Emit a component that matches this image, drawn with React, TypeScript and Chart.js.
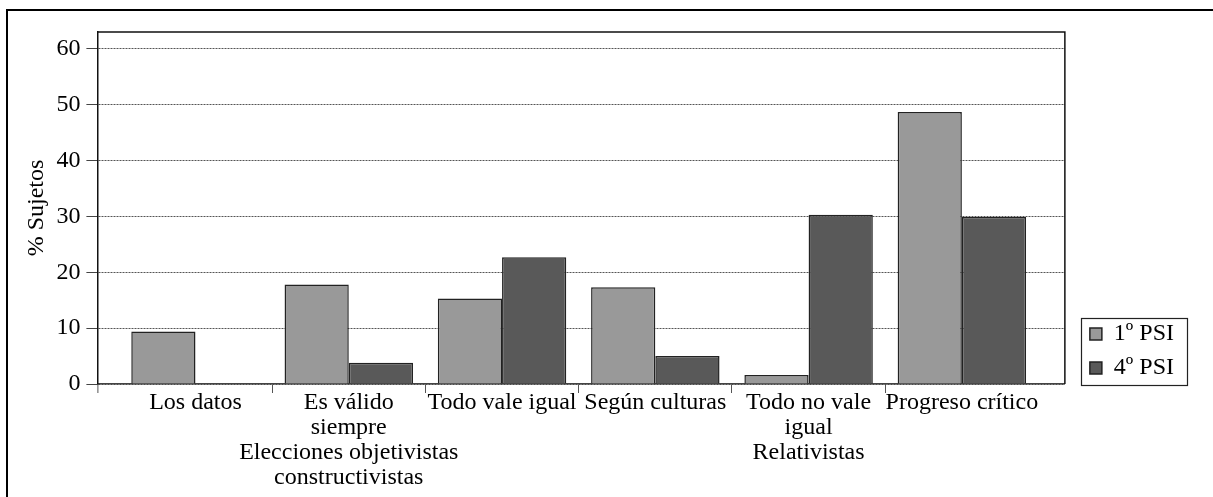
import React, { useEffect, useRef } from "react";
import { Chart, registerables } from "chart.js";

Chart.register(...registerables);

const categories: (string | string[])[] = [
  "Los datos",
  ["Es válido", "siempre", "Elecciones objetivistas", "constructivistas"],
  "Todo vale igual",
  "Según culturas",
  ["Todo no vale", "igual", "Relativistas"],
  "Progreso crítico",
];
const seriesNames = ["1º PSI", "4º PSI"];
const psi1 = [9.4, 17.8, 15.3, 17.3, 1.6, 48.7];
const psi4 = [0, 3.8, 22.7, 5.0, 30.3, 29.9];
const yTickStep = 10;

const FONT = "'Liberation Serif', 'Times New Roman', serif";
const FS = 24;

const framePlugin = {
  id: "framePlugin",
  afterLayout(chart: any) {
    const l = chart.legend;
    if (l) {
      l.left += 15;
      l.right += 15;
      l.top += 6;
      l.bottom += 6;
    }
  },
  afterDraw(chart: any) {
    const { ctx, chartArea } = chart;
    const { left, right, top, bottom } = chartArea;
    ctx.save();
    ctx.strokeStyle = "#111";
    ctx.lineWidth = 1.5;
    ctx.beginPath();
    ctx.moveTo(left, top);
    ctx.lineTo(right, top);
    ctx.lineTo(right, bottom);
    ctx.stroke();
    ctx.strokeStyle = "#555";
    ctx.lineWidth = 1;
    ctx.beginPath();
    ctx.moveTo(left + 0.5, bottom);
    ctx.lineTo(left + 0.5, bottom + 9);
    ctx.stroke();
    const l = chart.legend;
    if (l && l.legendHitBoxes && l.legendHitBoxes.length) {
      const hb = l.legendHitBoxes;
      let minX = Infinity, maxX = -Infinity, minY = Infinity, maxY = -Infinity;
      hb.forEach((h: any) => {
        minX = Math.min(minX, h.left);
        maxX = Math.max(maxX, h.left + h.width);
        minY = Math.min(minY, h.top);
        maxY = Math.max(maxY, h.top + h.height);
      });
      ctx.strokeStyle = "#222";
      ctx.lineWidth = 1.2;
      ctx.strokeRect(Math.round(minX - 9) + 0.5, Math.round(minY - 4) + 0.5, Math.round(maxX - minX + 22), Math.round(maxY - minY + 9));
    }
    ctx.restore();
  },
};

export default function App() {
  const ref = useRef<HTMLCanvasElement | null>(null);
  useEffect(() => {
    if (!ref.current) return;
    const idx = categories.map((_, i) => i);
    const chart = new Chart(ref.current, {
      type: "bar",
      data: {
        datasets: [
          {
            label: seriesNames[0],
            data: idx.map((i) => ({ x: i, y: psi1[i] })),
            backgroundColor: "#999999",
            borderColor: "#222222",
            borderWidth: 1.5,
          },
          {
            label: seriesNames[1],
            data: idx.map((i) => ({ x: i, y: psi4[i] })),
            backgroundColor: "#595959",
            borderColor: "#222222",
            borderWidth: 1.5,
          },
        ],
      },
      options: {
        animation: false,
        responsive: false,
        maintainAspectRatio: false,
        events: [],
        layout: { padding: { left: 18, top: 32, right: 44, bottom: 10 } },
        datasets: { bar: { categoryPercentage: 0.838, barPercentage: 1 } },
        plugins: {
          tooltip: { enabled: false },
          legend: {
            position: "right",
            align: "end",
            fullSize: false,
            labels: {
              boxWidth: 12,
              boxHeight: 12,
              padding: 10,
              color: "#000",
              font: { family: FONT, size: FS },
            },
          },
        },
        scales: {
          x: {
            type: "linear",
            offset: false,
            min: -0.64,
            max: 5.672,
            ticks: {
              stepSize: 1,
              includeBounds: false,
              autoSkip: false,
              maxRotation: 0,
              minRotation: 0,
              padding: -3,
              color: "#000",
              font: { family: FONT, size: FS, lineHeight: 25 / FS },
              callback: (v: any) => categories[v as number] as any,
            },
            grid: {
              offset: true,
              drawOnChartArea: false,
              tickLength: 9,
              lineWidth: 1,
              color: (c: any) => (c.type !== "tick" || c.index === 0 ? "rgba(0,0,0,0)" : "#555"),
              tickColor: (c: any) => (c.type !== "tick" || c.index === 0 ? "rgba(0,0,0,0)" : "#555"),
            },
            border: { color: "#444", width: 1.5 },
          },
          y: {
            min: 0,
            max: 63,
            ticks: {
              stepSize: yTickStep,
              includeBounds: false,
              padding: 6,
              color: "#000",
              font: { family: FONT, size: FS },
            },
            grid: {
              color: "#555",
              lineWidth: 1,
              tickLength: 11,
              tickColor: "#444",
            },
            border: { color: "#111", width: 1.5, dash: [2, 1] },
            title: {
              display: true,
              text: "% Sujetos",
              color: "#000",
              font: { family: FONT, size: FS, lineHeight: 1.1 },
              padding: { top: 6, bottom: 0 },
            },
          },
        },
      },
      plugins: [framePlugin],
    } as any);
    return () => chart.destroy();
  }, []);

  return (
    <div style={{ position: "fixed", left: 0, top: 0, width: 1213, height: 497, overflow: "hidden", background: "#fff" }}>
      <div
        style={{
          position: "absolute",
          left: 6,
          top: 9,
          width: 1400,
          height: 700,
          border: "2.5px solid #000",
        }}
      />
      <canvas ref={ref} width={1213} height={497} style={{ position: "absolute", left: 0, top: 0, width: 1213, height: 497 }} />
    </div>
  );
}
